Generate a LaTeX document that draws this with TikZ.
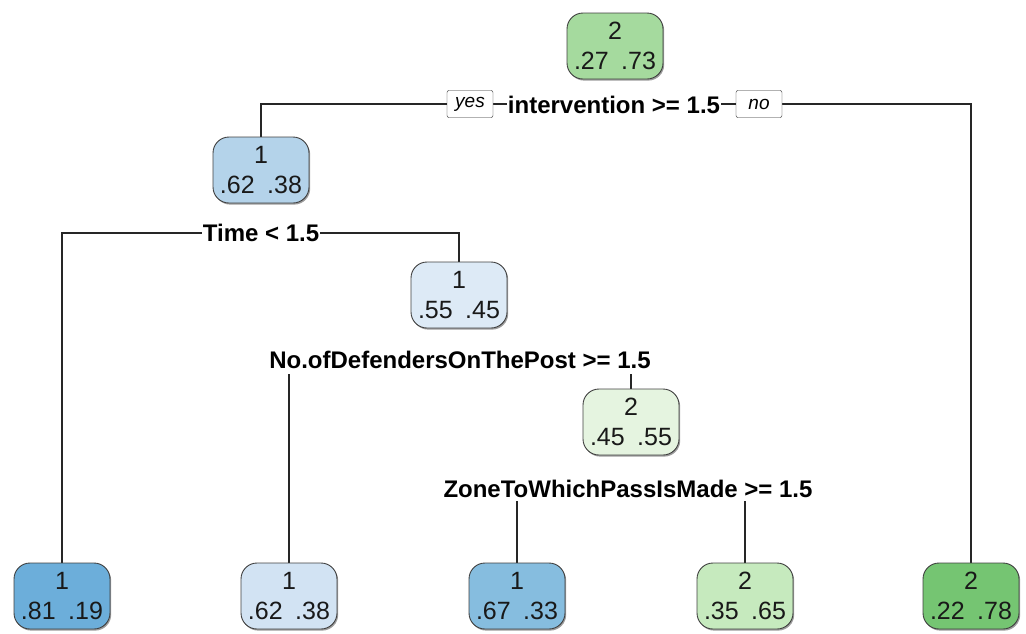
\documentclass[tikz,border=0pt]{standalone}
\usepackage{fontspec}
\setmainfont{Liberation Sans}
\usetikzlibrary{shadows,backgrounds}
\definecolor{cRoot}{HTML}{A5DA9E}
\definecolor{cNtwo}{HTML}{B4D3EA}
\definecolor{cNfour}{HTML}{DDEAF6}
\definecolor{cNseven}{HTML}{E5F4E0}
\definecolor{cLone}{HTML}{6CAEDA}
\definecolor{cLtwo}{HTML}{D2E3F3}
\definecolor{cLthree}{HTML}{86BDDF}
\definecolor{cLfour}{HTML}{C6EABE}
\definecolor{cLfive}{HTML}{75C572}
\begin{document}
\begin{tikzpicture}[x=1pt,y=-1pt,
  tnode/.style={draw=black!75, line width=0.9pt, rounded corners=16pt,
    minimum width=96pt, minimum height=66pt, inner sep=0pt, align=center,
    font=\fontsize{25}{30}\selectfont, text=black!90,
    drop shadow={shadow xshift=1.2pt, shadow yshift=-1.6pt, fill=black!55, opacity=0.7}},
  split/.style={font=\bfseries\fontsize{24}{27}\selectfont, inner sep=1pt},
  yn/.style={draw=black!85, fill=white, rounded corners=2pt,
    font=\itshape\fontsize{19}{21}\selectfont, minimum width=46pt,
    minimum height=27pt, inner sep=1pt},
  edge/.style={draw=black!85, line width=1.3pt}]
\useasboundingbox (0,0) rectangle (1026,633);

% internal nodes
\node[tnode, fill=cRoot]   (n1) at (615,46)  {2\\.27\hspace{0.5em}.73};
\node[tnode, fill=cNtwo]   (n2) at (261,170) {1\\.62\hspace{0.5em}.38};
\node[tnode, fill=cNfour]  (n4) at (459,295) {1\\.55\hspace{0.5em}.45};
\node[tnode, fill=cNseven] (n7) at (631,422) {2\\.45\hspace{0.5em}.55};

% leaves
\node[tnode, fill=cLone]   (L1) at (62,596)  {1\\.81\hspace{0.5em}.19};
\node[tnode, fill=cLtwo]   (L2) at (289,596) {1\\.62\hspace{0.5em}.38};
\node[tnode, fill=cLthree] (L3) at (517,596) {1\\.67\hspace{0.5em}.33};
\node[tnode, fill=cLfour]  (L4) at (745,596) {2\\.35\hspace{0.5em}.65};
\node[tnode, fill=cLfive]  (L5) at (971,596) {2\\.22\hspace{0.5em}.78};

% split labels
\node[split] (s1) at (614,105) {intervention >= 1.5};
\node[yn]    (yes) at (470,104) {yes};
\node[yn]    (no)  at (759,104) {no};
\node[split] (s2) at (261,233) {Time < 1.5};
\node[split] (s3) at (460,360) {No.ofDefendersOnThePost >= 1.5};
\node[split] (s4) at (628,489) {ZoneToWhichPassIsMade >= 1.5};

\begin{pgfonlayer}{background}
  \draw[edge] (n2.north) |- (yes.west);
  \draw[edge] (yes.east) -- (yes.east -| s1.west);
  \draw[edge] (s1.east |- no.west) -- (no.west);
  \draw[edge] (no.east) -| (L5.north);
  \draw[edge] (L1.north) |- (s2.west);
  \draw[edge] (s2.east) -| (n4.north);
  \draw[edge] (L2.north) -- ([yshift=-4pt]L2.north |- s3.south);
  \draw[edge] (n7.north) -- ([yshift=-4pt]n7.north |- s3.south);
  \draw[edge] (L3.north) -- ([yshift=-2pt]L3.north |- s4.south);
  \draw[edge] (L4.north) -- ([yshift=-2pt]L4.north |- s4.south);
\end{pgfonlayer}
\end{tikzpicture}
\end{document}
